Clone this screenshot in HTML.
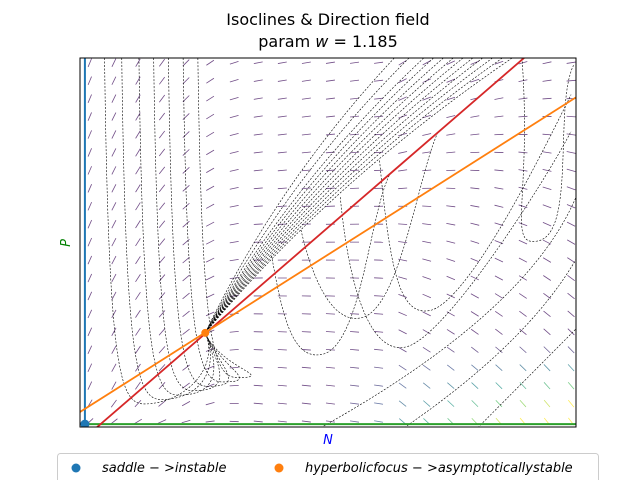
<!DOCTYPE html>
<html><head><meta charset="utf-8"><style>
body{margin:0;background:#fff;}
svg{display:block;font-family:"DejaVu Sans","Liberation Sans",sans-serif;}
</style></head><body>
<svg id="chart" width="640" height="480" viewBox="0 0 640 480">
<text x="328" y="25" text-anchor="middle" font-size="16">Isoclines &amp; Direction field</text>
<text x="328" y="47" text-anchor="middle" font-size="16">param <tspan font-style="italic">w</tspan> = 1.185</text>
<defs><clipPath id="clip"><rect x="80" y="58" width="496" height="369"/></clipPath></defs>
<g id="field" clip-path="url(#clip)"></g>
<g id="traj" clip-path="url(#clip)"></g>
<g id="iso" clip-path="url(#clip)"></g>
<rect x="80" y="58" width="496" height="369" fill="none" stroke="#000" stroke-width="1"/>
<text x="328" y="444" text-anchor="middle" font-size="13" font-style="italic" fill="#0000ff">N</text>
<text x="70" y="243" text-anchor="middle" font-size="13" font-style="italic" fill="#008000" transform="rotate(-90 70 243)">P</text>
<g>
<rect x="57.5" y="453.5" width="541" height="40" rx="3" fill="#fff" stroke="#ccc"/>
<circle cx="76" cy="468" r="4.5" fill="#1f77b4"/>
<text x="102" y="472" font-size="13" font-style="italic">saddle − &gt;instable</text>
<circle cx="279" cy="468" r="4.5" fill="#ff7f0e"/>
<text x="305" y="472" font-size="13" font-style="italic">hyperbolicfocus − &gt;asymptoticallystable</text>
</g>
</svg>
<script>
const xDomain=[-0.1,10], yDomain=[-0.08,10];
const fixedPoint=[2.45,2.49];
const saddlePoint=[0,0];
const redIso=[1.16,-0.371];   // slope, intercept
const orangeIso=[0.851,0.415];// slope, intercept
const bundleStarts=[[6.9,10],[7.1,10],[7.3,10],[7.5,10],[7.7,10],[7.9,10],[8.1,10],[8.3,10],[8.5,10],[8.7,10],[6.6,10],[6.3,10]];
const leftStarts=[0.4,0.75,1.1,1.4,1.7,2.0,2.3];
const loopPaths=[[6.0,7.2,7.0,4.6,9.9,9.0],[5.2,6.2,6.5,3.6,9.9,8.0],[4.4,5.3,5.6,4.4,7.2,8.0],[3.8,4.6,4.8,3.4,6.2,6.8],[8.9,10,9.2,6.5,9.95,9.8]];
const diagPaths=[[6.5,-0.1,10,4.5],[8.0,-0.1,10,2.6],[4.8,-0.1,10,6.2]];
const NS="http://www.w3.org/2000/svg";
const X=v=>80+(v-xDomain[0])/(xDomain[1]-xDomain[0])*496;
const Y=v=>427-(v-yDomain[0])/(yDomain[1]-yDomain[0])*369;
function el(t,a,p){const e=document.createElementNS(NS,t);for(const k in a)e.setAttribute(k,a[k]);p.appendChild(e);return e;}
function viridis(t){t=Math.max(0,Math.min(1,t));const c=[[68,1,84],[59,82,139],[33,145,140],[94,201,98],[253,231,37]];
 const s=t*4,i=Math.min(3,Math.floor(s)),f=s-i;return 'rgb('+c[i].map((a,k)=>Math.round(a+(c[i+1][k]-a)*f)).join(',')+')';}
const field=document.getElementById('field');
for(let i=0;i<21;i++)for(let j=0;j<21;j++){
 const n=xDomain[0]+0.2+i*0.49, p=yDomain[0]+0.15+j*0.49;
 const u=1, v=2.2*Math.max(0,1-n/3.2)*Math.min(1,p/1.5+0.4)+0.15*(p-orangeIso[0]*n-orangeIso[1])*(n>6?1:0.2);
 const m=Math.hypot(u,v);
 const L=4.5; const ux=u/m*L, uy=-v/m*L;
 const mag=Math.max(0,(n-5)/5)*Math.max(0,(2.2-p)/2.2);
 const line=el('line',{x1:X(n)-ux,y1:Y(p)-uy,x2:X(n)+ux,y2:Y(p)+uy,stroke:viridis(0.05+mag*1.3),'stroke-width':0.8,'stroke-opacity':0.75},field);
 
 
}
const traj=document.getElementById('traj');
const fx=X(fixedPoint[0]), fy=Y(fixedPoint[1]);
function tp(d){const p=el('path',{d:d,fill:'none',stroke:'#000','stroke-width':0.6,'stroke-dasharray':'2,1.5'},traj);
 
 }
bundleStarts.forEach(s=>{const sx=X(s[0]),sy=Y(s[1]);
 tp(`M${sx},${sy} Q${fx+(sx-fx)*0.45-12},${fy+(sy-fy)*0.55} ${fx},${fy}`);});
leftStarts.forEach((n,k)=>{const sx=X(n),sy=Y(10),by=Y(0.55+k*0.12),bx=X(n+0.6);
 tp(`M${sx},${sy} C${sx+4},${by-40} ${bx-15},${by} ${bx+10},${by} C${bx+50},${by} ${fx+15},${fy+35} ${fx},${fy}`);});
loopPaths.forEach(l=>{const sx=X(l[0]),sy=Y(l[1]),bx=X(l[2]),by=Y(l[3]),ex=X(l[4]),ey=Y(l[5]);
 tp(`M${sx},${sy} C${sx+10},${by+10} ${bx-30},${by+60} ${bx},${by+55} C${bx+40},${by+50} ${ex-20},${ey+40} ${ex},${ey}`);});
diagPaths.forEach(d=>{tp(`M${X(d[0])},${Y(d[1])} Q${X(d[2]-1)},${Y((d[1]+d[3])/2)} ${X(d[2])},${Y(d[3])}`);});
const iso=document.getElementById('iso');
function isoLine(c,color,name){const l=el('line',{x1:X(xDomain[0]),y1:Y(c[0]*xDomain[0]+c[1]),x2:X(xDomain[1]),y2:Y(c[0]*xDomain[1]+c[1]),stroke:color,'stroke-width':1.8},iso);
 
 }
const vAx=el('line',{x1:X(0),y1:58,x2:X(0),y2:427,stroke:'#1f77b4','stroke-width':2},iso);


const hAx=el('line',{x1:80,y1:Y(0),x2:576,y2:Y(0),stroke:'#2ca02c','stroke-width':2},iso);


isoLine(redIso,'#d62728','red-isocline');
isoLine(orangeIso,'#ff7f0e','orange-isocline');
const sp=el('circle',{cx:X(saddlePoint[0]),cy:Y(saddlePoint[1]),r:4.5,fill:'#1f77b4'},iso);


const fp=el('circle',{cx:fx,cy:fy,r:4,fill:'#ff7f0e'},iso);


</script>
</body></html>
